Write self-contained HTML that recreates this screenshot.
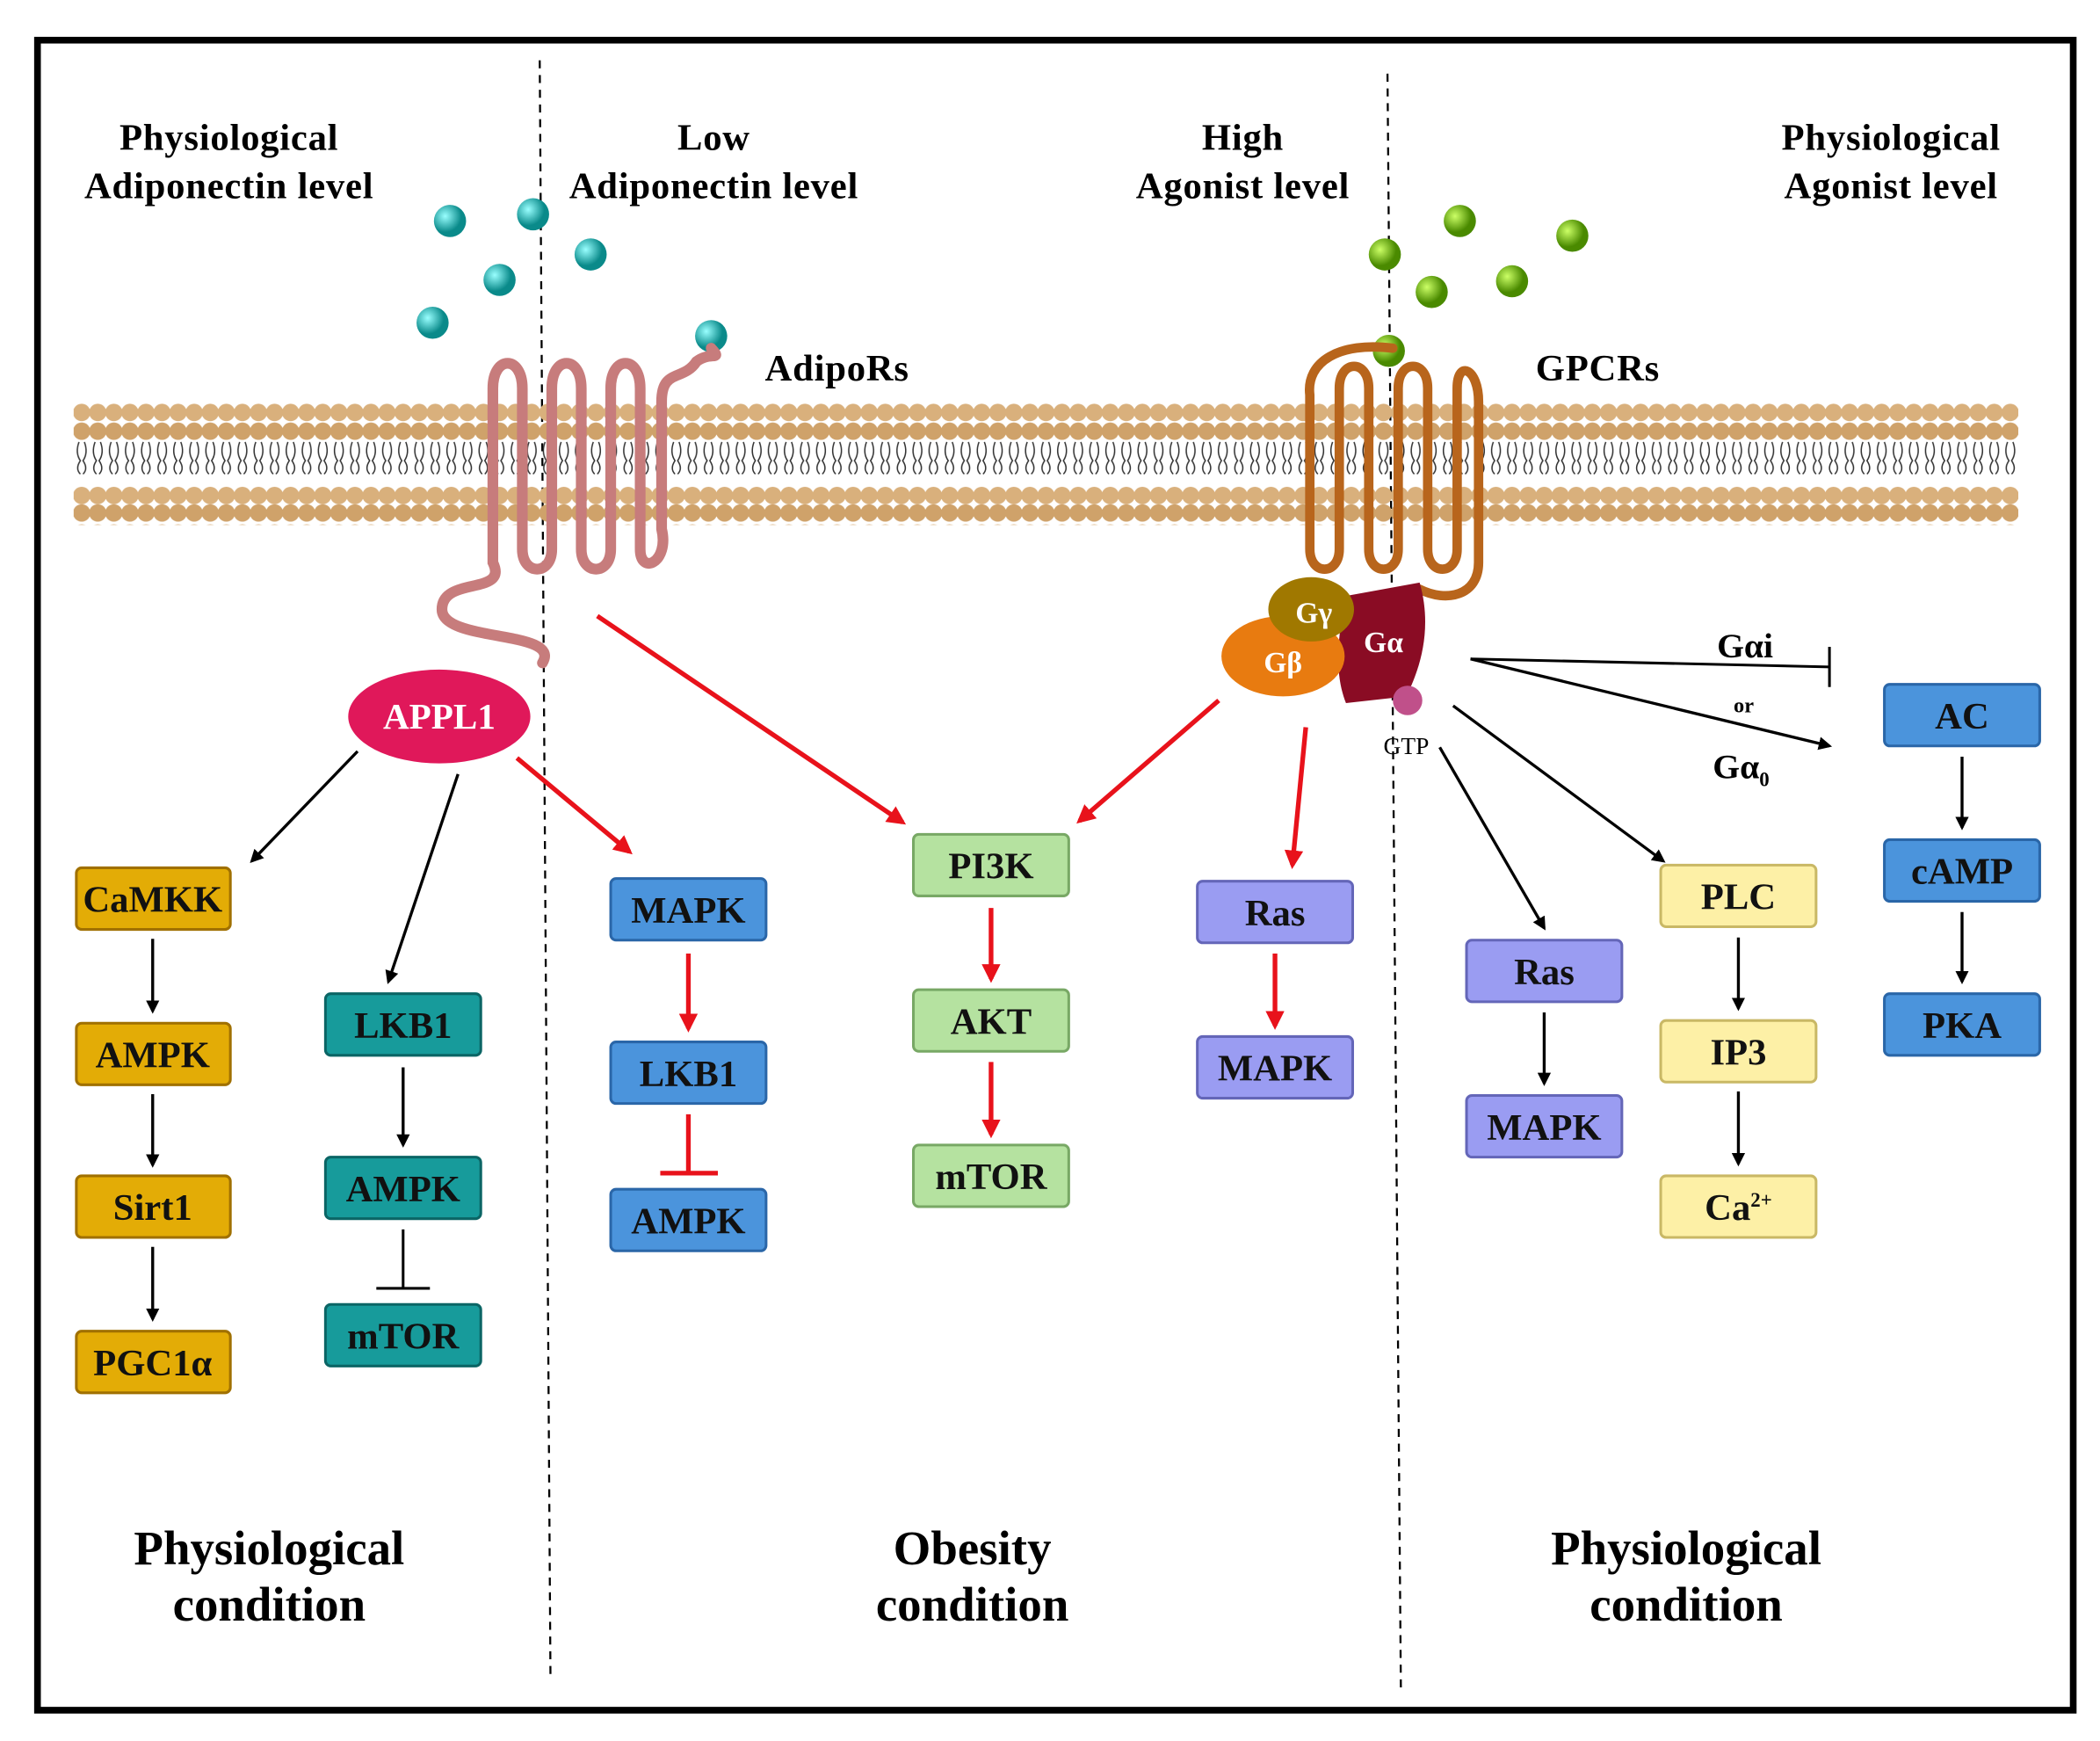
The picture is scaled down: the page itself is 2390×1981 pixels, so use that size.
<!DOCTYPE html>
<html><head><meta charset="utf-8"><style>html,body{margin:0;padding:0;background:#fff}svg{display:block}</style></head>
<body>
<svg width="2390" height="1981" viewBox="0 0 1568 1300" preserveAspectRatio="none" xmlns="http://www.w3.org/2000/svg" font-family="Liberation Serif, serif" font-weight="bold">
<defs>
<marker id="ab" markerWidth="10" markerHeight="10" refX="8" refY="5" orient="auto" markerUnits="userSpaceOnUse" viewBox="0 0 10 10"><path d="M0,0 L10,5 L0,10 Z" fill="#000"/></marker>
<marker id="ar" markerWidth="14" markerHeight="14" refX="11" refY="7" orient="auto" markerUnits="userSpaceOnUse" viewBox="0 0 14 14"><path d="M0,0 L14,7 L0,14 Z" fill="#e8121b"/></marker>
<pattern id="bead" width="12" height="90" patternUnits="userSpaceOnUse" x="55" y="300">
<circle cx="6" cy="8" r="6.5" fill="#d9b07c"/><circle cx="6" cy="22" r="6.5" fill="#cfa26a"/>
<path d="M4,30 q-3,8 1,14 q-4,6 0,10 M8,30 q3,8 -1,14 q4,6 0,10" stroke="#333" stroke-width="1" fill="none"/>
<circle cx="6" cy="70" r="6.5" fill="#d9b07c"/><circle cx="6" cy="83" r="6.5" fill="#cfa26a"/>
</pattern>
<radialGradient id="tb" cx="35%" cy="35%"><stop offset="0" stop-color="#9ff"/><stop offset="1" stop-color="#0a8a8a"/></radialGradient>
<radialGradient id="gb" cx="35%" cy="35%"><stop offset="0" stop-color="#cf6"/><stop offset="1" stop-color="#4a8a00"/></radialGradient>
</defs>
<rect x="28" y="30" width="1520" height="1247" fill="#fff" stroke="#000" stroke-width="5"/>
<line x1="403" y1="45" x2="411" y2="1250" stroke="#000" stroke-width="1.5" stroke-dasharray="6,5"/>
<line x1="1036" y1="55" x2="1046" y2="1262" stroke="#000" stroke-width="1.5" stroke-dasharray="6,5"/>
<g font-size="28" text-anchor="middle" letter-spacing="0.5">
<text x="171" y="112">Physiological</text><text x="171" y="148">Adiponectin level</text>
<text x="533" y="112">Low</text><text x="533" y="148">Adiponectin level</text>
<text x="928" y="112">High</text><text x="928" y="148">Agonist  level</text>
<text x="1412" y="112">Physiological</text><text x="1412" y="148">Agonist level</text>
<text x="625" y="284">AdipoRs</text><text x="1193" y="284">GPCRs</text>
</g>
<rect x="55" y="300" width="1452" height="92" fill="url(#bead)"/>
<g fill="url(#tb)"><circle cx="336" cy="165" r="12"/><circle cx="398" cy="160" r="12"/><circle cx="441" cy="190" r="12"/><circle cx="373" cy="209" r="12"/><circle cx="323" cy="241" r="12"/><circle cx="531" cy="251" r="12"/></g>
<path d="M405,495 C420,470 330,480 330,455 C330,430 380,445 368,420 L368,290 C368,265 390,265 390,290 L390,410 C390,430 412,430 412,410 L412,290 C412,265 434,265 434,290 L434,410 C434,430 456,430 456,410 L456,290 C456,265 478,265 478,290 L478,410 C478,430 500,420 494,395 L494,300 C494,275 510,285 520,270 C530,262 540,270 531,260" fill="none" stroke="#c77c7c" stroke-width="8" stroke-linecap="round"/>
<g fill="url(#gb)"><circle cx="1034" cy="190" r="12"/><circle cx="1090" cy="165" r="12"/><circle cx="1174" cy="176" r="12"/><circle cx="1069" cy="218" r="12"/><circle cx="1129" cy="210" r="12"/><circle cx="1037" cy="262" r="12"/></g>
<path d="M1040,260 C1000,255 975,270 978,295 L978,410 C978,430 1000,430 1000,410 L1000,290 C1000,268 1022,268 1022,290 L1022,410 C1022,430 1044,430 1044,410 L1044,290 C1044,268 1066,268 1066,290 L1066,410 C1066,430 1088,430 1088,410 L1088,290 C1088,268 1104,275 1104,300 L1104,420 C1104,445 1080,450 1060,440" fill="none" stroke="#b8651c" stroke-width="7" stroke-linecap="round"/>
<path d="M1005,445 L1060,435 C1070,470 1060,500 1050,520 L1005,525 C995,500 1000,470 1005,445Z" fill="#8a0c24"/>
<ellipse cx="958" cy="490" rx="46" ry="30" fill="#e87b10"/>
<ellipse cx="979" cy="455" rx="32" ry="24" fill="#a07800"/>
<text x="981" y="465" font-size="22" fill="#fff" text-anchor="middle">Gγ</text>
<text x="958" y="502" font-size="22" fill="#fff" text-anchor="middle">Gβ</text>
<text x="1033" y="487" font-size="22" fill="#fff" text-anchor="middle">Gα</text>
<circle cx="1051" cy="523" r="11" fill="#c0508a"/>
<text x="1050" y="563" font-size="18" font-weight="normal" text-anchor="middle">GTP</text>
<ellipse cx="328" cy="535" rx="68" ry="35" fill="#e0185a"/>
<text x="328" y="544" font-size="27" fill="#fff" text-anchor="middle">APPL1</text>
<g stroke="#000" stroke-width="2.2" fill="none" marker-end="url(#ab)">
<line x1="267" y1="561" x2="188" y2="643"/><line x1="342" y1="578" x2="290" y2="733"/>
<line x1="114" y1="701" x2="114" y2="755"/><line x1="114" y1="817" x2="114" y2="870"/><line x1="114" y1="931" x2="114" y2="985"/>
<line x1="301" y1="797" x2="301" y2="855"/>
<line x1="1075" y1="558" x2="1153" y2="693"/><line x1="1085" y1="527" x2="1242" y2="643"/>
<line x1="1153" y1="756" x2="1153" y2="809"/>
<line x1="1298" y1="700" x2="1298" y2="753"/><line x1="1298" y1="815" x2="1298" y2="869"/>
<line x1="1465" y1="565" x2="1465" y2="618"/><line x1="1465" y1="681" x2="1465" y2="733"/>
<line x1="1098" y1="492" x2="1366" y2="557"/>
</g>
<g stroke="#000" stroke-width="2" fill="none">
<line x1="301" y1="918" x2="301" y2="962"/><line x1="281" y1="962" x2="321" y2="962"/>
<line x1="1098" y1="492" x2="1366" y2="498"/><line x1="1366" y1="483" x2="1366" y2="513"/>
</g>
<g stroke="#e8121b" stroke-width="3.5" fill="none" marker-end="url(#ar)">
<line x1="386" y1="566" x2="470" y2="636"/><line x1="446" y1="460" x2="674" y2="614"/>
<line x1="910" y1="523" x2="806" y2="613"/><line x1="975" y1="543" x2="965" y2="646"/>
<line x1="514" y1="712" x2="514" y2="768"/><line x1="740" y1="678" x2="740" y2="731"/><line x1="740" y1="793" x2="740" y2="847"/><line x1="952" y1="712" x2="952" y2="766"/>
</g>
<g stroke="#e8121b" stroke-width="3.5"><line x1="514" y1="832" x2="514" y2="876"/><line x1="493" y1="876" x2="536" y2="876"/></g>
<text x="1303" y="491" font-size="26" text-anchor="middle">Gαi</text>
<text x="1302" y="532" font-size="16" text-anchor="middle">or</text>
<text x="1300" y="581" font-size="26" text-anchor="middle">Gα<tspan font-size="15" dy="6">0</tspan></text>
<g font-size="28" text-anchor="middle" stroke-width="2">
<g fill="#e3ac06" stroke="#a07000"><rect x="57" y="648" width="115" height="46" rx="4"/><rect x="57" y="764" width="115" height="46" rx="4"/><rect x="57" y="878" width="115" height="46" rx="4"/><rect x="57" y="994" width="115" height="46" rx="4"/></g>
<g fill="#179b9b" stroke="#0b6565"><rect x="243" y="742" width="116" height="46" rx="4"/><rect x="243" y="864" width="116" height="46" rx="4"/><rect x="243" y="974" width="116" height="46" rx="4"/></g>
<g fill="#4b94dc" stroke="#2a66a8"><rect x="456" y="656" width="116" height="46" rx="4"/><rect x="456" y="778" width="116" height="46" rx="4"/><rect x="456" y="888" width="116" height="46" rx="4"/><rect x="1407" y="511" width="116" height="46" rx="4"/><rect x="1407" y="627" width="116" height="46" rx="4"/><rect x="1407" y="742" width="116" height="46" rx="4"/></g>
<g fill="#b5e2a0" stroke="#78a865"><rect x="682" y="623" width="116" height="46" rx="4"/><rect x="682" y="739" width="116" height="46" rx="4"/><rect x="682" y="855" width="116" height="46" rx="4"/></g>
<g fill="#9a9cf2" stroke="#6466b8"><rect x="894" y="658" width="116" height="46" rx="4"/><rect x="894" y="774" width="116" height="46" rx="4"/><rect x="1095" y="702" width="116" height="46" rx="4"/><rect x="1095" y="818" width="116" height="46" rx="4"/></g>
<g fill="#fdf0a6" stroke="#c9b865"><rect x="1240" y="646" width="116" height="46" rx="4"/><rect x="1240" y="762" width="116" height="46" rx="4"/><rect x="1240" y="878" width="116" height="46" rx="4"/></g>
<g fill="#111" stroke="none">
<text x="114" y="681">CaMKK</text><text x="114" y="797">AMPK</text><text x="114" y="911">Sirt1</text><text x="114" y="1027">PGC1α</text>
<text x="301" y="775">LKB1</text><text x="301" y="897">AMPK</text><text x="301" y="1007">mTOR</text>
<text x="514" y="689">MAPK</text><text x="514" y="811">LKB1</text><text x="514" y="921">AMPK</text>
<text x="740" y="656">PI3K</text><text x="740" y="772">AKT</text><text x="740" y="888">mTOR</text>
<text x="952" y="691">Ras</text><text x="952" y="807">MAPK</text>
<text x="1153" y="735">Ras</text><text x="1153" y="851">MAPK</text>
<text x="1298" y="679">PLC</text><text x="1298" y="795">IP3</text><text x="1298" y="911">Ca<tspan font-size="15" dy="-10">2+</tspan></text>
<text x="1465" y="544">AC</text><text x="1465" y="660">cAMP</text><text x="1465" y="775">PKA</text>
</g></g>
<g font-size="36" text-anchor="middle">
<text x="201" y="1168">Physiological</text><text x="201" y="1210">condition</text>
<text x="726" y="1168">Obesity</text><text x="726" y="1210">condition</text>
<text x="1259" y="1168">Physiological</text><text x="1259" y="1210">condition</text>
</g>
</svg>
</body></html>
